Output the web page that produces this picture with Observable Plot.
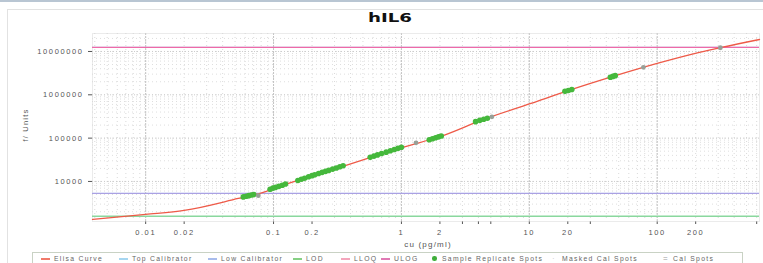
<!DOCTYPE html>
<html>
<head>
<meta charset="utf-8">
<script src="https://cdn.jsdelivr.net/npm/d3@7"></script>
<script src="https://cdn.jsdelivr.net/npm/@observablehq/plot@0.6"></script>
<style>
  html, body { margin: 0; padding: 0; background: #fff; }
  #wrap { position: relative; width: 763px; height: 263px; overflow: hidden; background: #fff;
          font-family: "Liberation Sans", Arial, sans-serif; }
  #topbar { position: absolute; left: 0; top: 0; width: 763px; height: 2px; background: #b9c6d3; }
  #outer { position: absolute; left: 7px; top: 9px; width: 770px; height: 270px; border: 1px solid #e2e2e2; }
  #chart { position: absolute; left: 0; top: 0; }
  #chart svg text { letter-spacing: 1.6px; }
  #title { position: absolute; top: 10px; left: 390px; transform: translateX(-50%) scaleX(1.4);
           font-family: "DejaVu Sans", sans-serif; font-weight: bold; font-size: 13px; color: #111; }
  #ylab { position: absolute; left: 25px; top: 125px; transform: translate(-50%, -50%) rotate(-90deg);
          font-size: 7.5px; letter-spacing: 1.2px; color: #555; white-space: nowrap; }
  #xlab { position: absolute; left: 428px; top: 240px; transform: translateX(-50%);
          font-size: 8px; letter-spacing: 1.2px; color: #555; white-space: nowrap; }
  #legend { position: absolute; left: 32px; top: 252px; width: 711px; height: 14px;
            border: 1px solid #c9d2c4; box-sizing: border-box;
            font-size: 6.8px; letter-spacing: 1.3px; color: #666; white-space: nowrap; }
  .mk { position: absolute; top: 5px; width: 9px; height: 1.5px; }
  .dot { position: absolute; top: 3px; width: 4.5px; height: 4.5px; border-radius: 50%; }
  .sym { position: absolute; top: 1px; font-size: 8px; line-height: 10px; }
  .lt { position: absolute; top: 1px; line-height: 10px; }
</style>
</head>
<body>
<div id="wrap">
  <div id="topbar"></div>
  <div id="outer"></div>
  <div id="chart"></div>
  <div id="title"></div>
  <div id="ylab"></div>
  <div id="xlab"></div>
  <div id="legend"></div>
</div>
<script>
// ---- chart text ----
const chartTitle = "hIL6";
const yLabel = "f/ Units";
const xLabel = "cu (pg/ml)";

// ---- axis ticks ----
const xTicks = [0.01, 0.02, 0.1, 0.2, 1, 2, 3, 4, 5, 10, 20, 30, 100, 200, 600];
const yTicks = [10000, 100000, 1000000, 10000000];
const gridDecadesX = [0.001, 0.01, 0.1, 1, 10, 100];
const gridDecadesY = [1000, 10000, 100000, 1000000, 10000000];
const gridMultipliers = [1, 2, 3, 4, 5, 6, 7, 8, 9];

// ---- fitted Elisa curve ----
const curveX = [0.00384, 0.01, 0.02, 0.053, 0.083, 0.105, 0.183, 0.293, 0.762, 1.02, 2.02, 4.39, 10.3, 20.4, 45.2, 100, 214, 318, 631];
const curveY = [1327, 1730, 2140, 4050, 5570, 7270, 12400, 18900, 46700, 61000, 109000, 270000, 631000, 1260000, 2650000, 5280000, 9500000, 12400000, 18900000];

// ---- sample replicate spots ----
const sampleX = [0.058, 0.061, 0.064, 0.067, 0.070, 0.094, 0.099, 0.104, 0.110, 0.117, 0.124,
  0.155, 0.165, 0.175, 0.188, 0.200, 0.210, 0.225, 0.240, 0.255, 0.270, 0.290, 0.310, 0.330, 0.350,
  0.57, 0.61, 0.65, 0.70, 0.76, 0.82, 0.88, 0.94, 1.0, 1.65, 1.75, 1.85, 1.95, 2.05,
  3.8, 4.1, 4.4, 4.7, 19.0, 20.2, 21.5, 43, 45, 47];
const sampleY = [4400, 4550, 4700, 4850, 5000, 6600, 7000, 7300, 7700, 8200, 8700,
  10500, 11200, 11900, 12800, 13600, 14300, 15200, 16200, 17100, 18000, 19300, 20500, 21800, 23000,
  36000, 38500, 41000, 44000, 47500, 51000, 54500, 58000, 61500, 92000, 97000, 102000, 107000, 112000,
  240000, 257000, 272000, 288000, 1200000, 1260000, 1330000, 2550000, 2660000, 2770000];

// ---- cal spots ----
const calX = [0.076, 1.3, 5.1, 78, 312];
const calY = [4700, 78000, 310000, 4300000, 12200000];

// ---- reference levels ----
const ulog = 12400000;
const topCalibrator = 12400000;
const lowCalibrator = 5300;
const lloq = 5300;
const lod = 1570;

// ---- legend ----
const legendLabels = ["Elisa Curve", "Top Calibrator", "Low Calibrator", "LOD", "LLOQ", "ULOG",
  "Sample Replicate Spots", "Masked Cal Spots", "Cal Spots"];
const legendKinds = ["line", "line", "line", "line", "line", "line", "dot", "masked", "cal"];
const legendColors = ["#f07a6a", "#a6d6f0", "#a8bcec", "#86d084", "#f4a6bc", "#e07ab4", "#3fae3a", "#c8c8c8", "#9a9a9a"];

// tables for the library
const curve = curveX.map((x, i) => ({x, y: curveY[i]}));
const samples = sampleX.map((x, i) => ({x, y: sampleY[i]}));
const cals = calX.map((x, i) => ({x, y: calY[i]}));
const gridX = gridDecadesX.flatMap(d => gridMultipliers.map(m => d * m));
const gridY = gridDecadesY.flatMap(d => gridMultipliers.map(m => d * m));

const xDomain = [0.00384, 631];
const yDomain = [1190, 26000000];

const plot = Plot.plot({
  width: 763,
  height: 263,
  marginLeft: 92,
  marginRight: 4,
  marginTop: 33,
  marginBottom: 42,
  style: {fontFamily: "Liberation Sans, Arial, sans-serif", fontSize: "7.5px", color: "#555", background: "transparent"},
  x: {type: "log", domain: xDomain, ticks: xTicks, tickFormat: d => String(d), tickSize: 3, tickPadding: 5, label: null},
  y: {type: "log", domain: yDomain, ticks: yTicks, tickFormat: d => String(d), tickSize: 4, tickPadding: 5, label: null},
  marks: [
    Plot.ruleX(gridX.filter(v => v >= xDomain[0] && v <= xDomain[1]), {stroke: "#dadada", strokeDasharray: "1,3", strokeWidth: 1}),
    Plot.ruleY(gridY.filter(v => v >= yDomain[0] && v <= yDomain[1]), {stroke: "#dedede", strokeDasharray: "1,3", strokeWidth: 1}),
    Plot.ruleX(xTicks.filter(v => gridDecadesX.includes(v)), {stroke: "#c4c4c4", strokeDasharray: "2,1", strokeWidth: 1}),
    Plot.ruleY(yTicks, {stroke: "#cccccc", strokeDasharray: "1,2", strokeWidth: 1}),
    Plot.frame({stroke: "#d6d6d6", strokeDasharray: "1,1"}),
    Plot.ruleY([lod], {stroke: "#8ad89e", strokeWidth: 1.6}),
    Plot.ruleY([lowCalibrator], {stroke: "#a4b8ee", strokeWidth: 1.2}),
    Plot.ruleY([lloq], {stroke: "#b77ad0", strokeWidth: 1, strokeOpacity: 0.4}),
    Plot.ruleY([topCalibrator], {stroke: "#a6d6f0", strokeWidth: 1.2}),
    Plot.ruleY([ulog], {stroke: "#ee6aa8", strokeWidth: 1.3}),
    Plot.line(curve, {x: "x", y: "y", stroke: "#ee5a48", strokeWidth: 1.3, curve: "monotone-x"}),
    Plot.dot(samples, {x: "x", y: "y", r: 2.8, fill: "#45b83c", stroke: "none"}),
    Plot.dot(cals, {x: "x", y: "y", r: 2.4, fill: "#98a098", stroke: "none"})
  ]
});
document.getElementById("chart").appendChild(plot);

document.getElementById("title").textContent = chartTitle;
document.getElementById("ylab").textContent = yLabel;
document.getElementById("xlab").textContent = xLabel;

// legend layout (pixel offsets inside the legend box)
const legendMarkerLeft = [8, 86, 175, 260, 308, 348, 399, 519, 630];
const legend = document.getElementById("legend");
legendLabels.forEach((lab, i) => {
  const kind = legendKinds[i];
  const mk = document.createElement("span");
  const left = legendMarkerLeft[i];
  if (kind === "line") { mk.className = "mk"; mk.style.background = legendColors[i]; }
  else if (kind === "dot") { mk.className = "dot"; mk.style.background = legendColors[i]; }
  else { mk.className = "sym"; mk.textContent = kind === "masked" ? "·" : "="; mk.style.color = legendColors[i]; }
  mk.style.left = left + "px";
  const t = document.createElement("span");
  t.className = "lt";
  t.textContent = lab;
  t.style.left = (left + (kind === "line" ? 13 : 10)) + "px";
  legend.appendChild(mk);
  legend.appendChild(t);
});
</script>
</body>
</html>
